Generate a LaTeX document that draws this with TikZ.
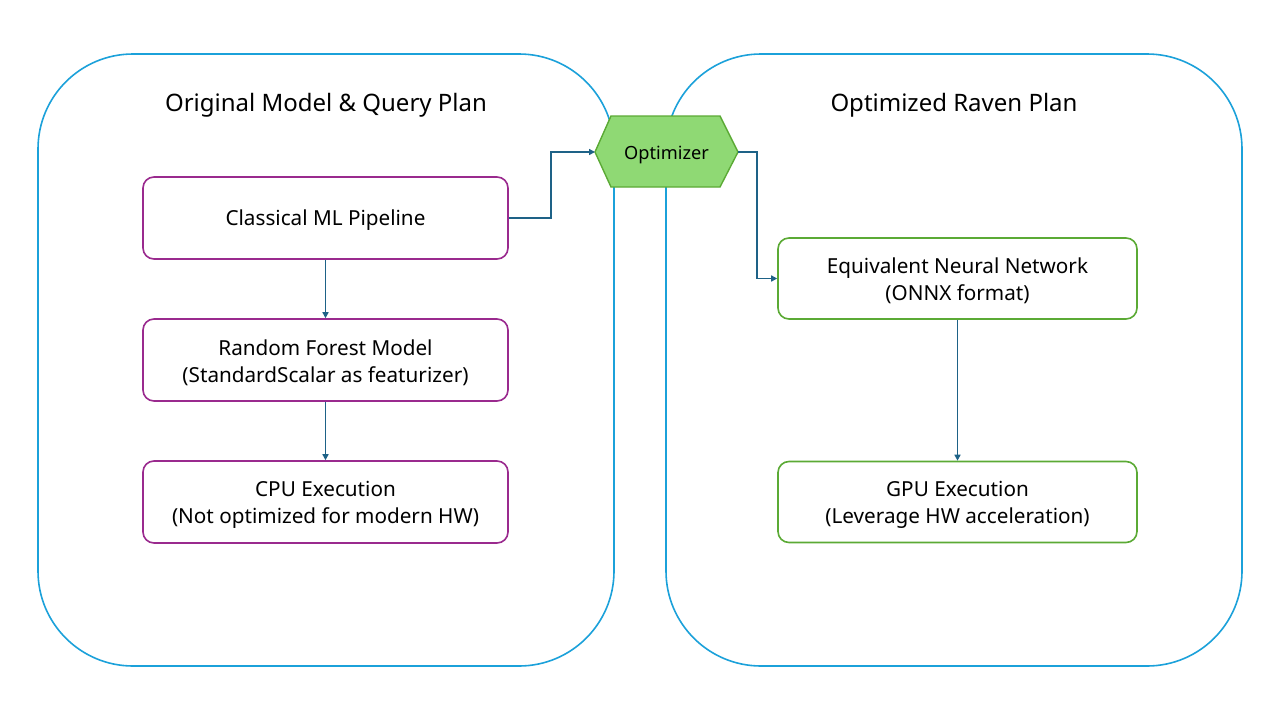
\documentclass[tikz,border=0pt]{standalone}
\usepackage{fontspec}
\setmainfont{Noto Sans}
\usetikzlibrary{arrows.meta}
\definecolor{contblue}{HTML}{1BA1DA}
\definecolor{purp}{HTML}{9A2A8E}
\definecolor{grn}{HTML}{5BAA35}
\definecolor{grnfill}{HTML}{8FD974}
\definecolor{arr}{HTML}{1E6287}
\tikzset{
  container/.style={draw=contblue, line width=1.6pt, rounded corners=95pt},
  boxtext/.style={align=center, font=\fontsize{20.7}{27}\selectfont, inner sep=0pt, yshift=-2.5pt},
  pbox/.style={draw=purp, line width=1.6pt, rounded corners=11pt, minimum width=365pt, minimum height=82pt, inner sep=0pt},
  gbox/.style={draw=grn, line width=1.6pt, rounded corners=11pt, minimum width=359pt, minimum height=81pt, inner sep=0pt},
  title/.style={font=\fontsize{24}{28}\selectfont},
  conn/.style={draw=arr, line width=1.5pt, -{Triangle[length=6pt,width=6pt]}},
}
\begin{document}
\begin{tikzpicture}[x=1pt,y=-1pt]
\useasboundingbox (0,0) rectangle (1280,720);
\fill[white] (0,0) rectangle (1280,720);
\draw[container] (38,54) rectangle (614,666);
\draw[container] (666,54) rectangle (1242,666);
\node[title] (t1) at (326,105) {Original Model \& Query Plan};
\node[title] (t2) at (954,105) {Optimized Raven Plan};
\node[pbox, label={[boxtext]center:{Classical ML Pipeline}}] (cml) at (325.5,218) {};
\node[pbox, label={[boxtext]center:{Random Forest Model\\(StandardScalar as featurizer)}}] (rf) at (325.5,360) {};
\node[pbox, label={[boxtext]center:{CPU Execution\\(Not optimized for modern HW)}}] (cpu) at (325.5,502) {};
\node[gbox, label={[boxtext]center:{Equivalent Neural Network\\(ONNX format)}}] (nn) at (957.5,278.5) {};
\node[gbox, label={[boxtext]center:{GPU Execution\\(Leverage HW acceleration)}}] (gpu) at (957.5,502) {};
\draw[draw=grn, fill=grnfill, line width=1.4pt] (595,152) -- (611,116) -- (720,116) -- (738,152) -- (720,187) -- (611,187) -- cycle;
\node[font=\fontsize{18.2}{22}\selectfont] (opt) at (666.5,154.5) {Optimizer};
\coordinate (optl) at (595,152);
\coordinate (optr) at (738,152);
\draw[conn] (cml.east) -- (551,218) -- (551,152) -- (optl);
\draw[conn] (optr) -- (757,152) -- (757,278.5) -- (nn.west);
\draw[conn] (cml.south) -- (rf.north);
\draw[conn] (rf.south) -- (cpu.north);
\draw[conn] (nn.south) -- (gpu.north);
\end{tikzpicture}
\end{document}
